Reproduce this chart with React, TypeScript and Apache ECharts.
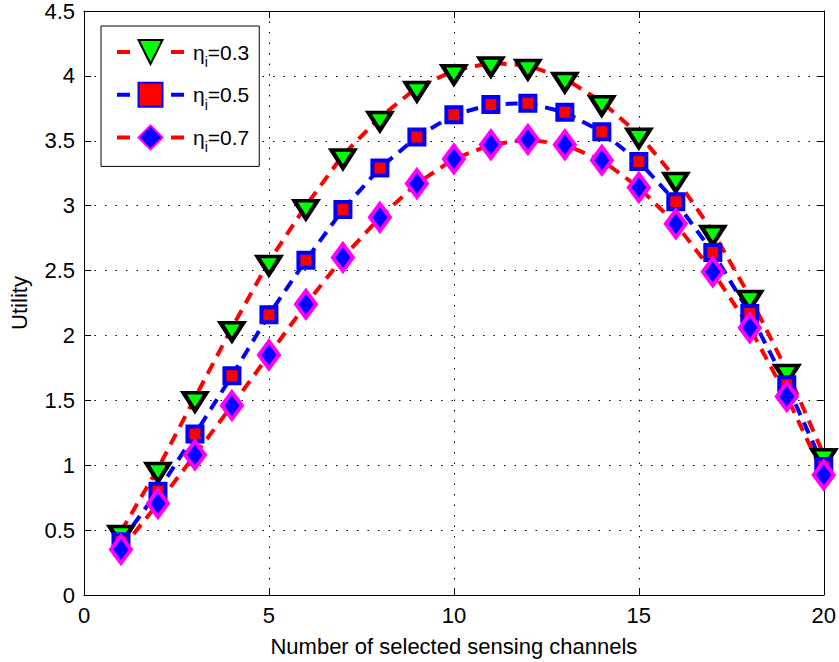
import React, { useEffect, useRef } from "react";
import * as echarts from "echarts";

const channels = [1, 2, 3, 4, 5, 6, 7, 8, 9, 10, 11, 12, 13, 14, 15, 16, 17, 18, 19, 20];
const eta03 = [0.49, 0.975, 1.52, 2.06, 2.57, 3.0, 3.39, 3.68, 3.91, 4.04, 4.1, 4.08, 3.98, 3.8, 3.55, 3.21, 2.8, 2.3, 1.73, 1.08];
const eta05 = [0.41, 0.8, 1.24, 1.69, 2.16, 2.58, 2.97, 3.29, 3.53, 3.7, 3.78, 3.79, 3.72, 3.57, 3.34, 3.03, 2.64, 2.17, 1.62, 0.99];
const eta07 = [0.35, 0.705, 1.08, 1.46, 1.85, 2.24, 2.6, 2.91, 3.17, 3.36, 3.47, 3.51, 3.47, 3.35, 3.14, 2.86, 2.49, 2.06, 1.53, 0.925];
const seriesNames = ["η_i=0.3", "η_i=0.5", "η_i=0.7"];
const xLabel = "Number of selected sensing channels";
const yLabel = "Utility";

const FONT = "'Liberation Sans', Arial, Helvetica, sans-serif";

export default function App() {
  const ref = useRef<HTMLDivElement>(null);
  useEffect(() => {
    if (!ref.current) return;
    const chart = echarts.init(ref.current, null, { renderer: "svg" });
    const pts = (ys: number[]) => channels.map((x, i) => [x, ys[i]]);
    const dash = [12, 8];
    const tick = { show: true, inside: true, length: 7, lineStyle: { color: "#000", width: 1 } };
    const axisLine = { show: true, onZero: false, lineStyle: { color: "#000", width: 1 } };
    const grid = { show: true, lineStyle: { color: "#000", width: 1, type: [1.5, 9] as any } };
    chart.setOption({
      animation: false,
      textStyle: { fontFamily: FONT },
      grid: { left: 84, right: 14, top: 10, bottom: 67, containLabel: false },
      legend: {
        orient: "vertical",
        left: 101,
        top: 26,
        padding: [13, 10, 12, 14],
        itemGap: 12.7,
        itemWidth: 67,
        itemHeight: 30,
        backgroundColor: "#fff",
        borderColor: "#000",
        borderWidth: 1,
        borderRadius: 0,
        data: seriesNames.map((name) => ({ name, lineStyle: { width: 4, type: [13, 41, 13] } })),
        lineStyle: { width: 4, type: [13, 41, 13] as any },
        formatter: (name: string) => "{a|η}{s|i}{a|" + name.replace("η_i", "") + "}",
        textStyle: {
          color: "#000",
          fontSize: 21,
          fontFamily: FONT,
          padding: [0, 0, 0, 4],
          rich: {
            a: { fontSize: 21, lineHeight: 30, verticalAlign: "middle", color: "#000", fontFamily: FONT },
            s: { fontSize: 14, lineHeight: 34, verticalAlign: "bottom", color: "#000", fontFamily: FONT },
          },
        },
      },
      xAxis: [
        {
          type: "value",
          min: 0,
          max: 20,
          interval: 5,
          position: "bottom",
          name: xLabel,
          nameLocation: "middle",
          nameGap: 40,
          nameTextStyle: { fontSize: 22, color: "#000", fontFamily: FONT },
          axisLine,
          axisTick: tick,
          axisLabel: { fontSize: 22, color: "#000", margin: 9, fontFamily: FONT },
          splitLine: grid,
        },
        {
          type: "value",
          min: 0,
          max: 20,
          interval: 5,
          position: "top",
          axisLine,
          axisTick: tick,
          axisLabel: { show: false },
          splitLine: { show: false },
        },
      ],
      yAxis: [
        {
          type: "value",
          min: 0,
          max: 4.5,
          interval: 0.5,
          position: "left",
          name: yLabel,
          nameLocation: "middle",
          nameGap: 54,
          nameTextStyle: { fontSize: 22, color: "#000", fontFamily: FONT },
          axisLine,
          axisTick: tick,
          axisLabel: { fontSize: 22, color: "#000", margin: 9, fontFamily: FONT },
          splitLine: grid,
        },
        {
          type: "value",
          min: 0,
          max: 4.5,
          interval: 0.5,
          position: "right",
          axisLine,
          axisTick: tick,
          axisLabel: { show: false },
          splitLine: { show: false },
        },
      ],
      series: [
        {
          name: seriesNames[0],
          type: "line",
          data: pts(eta03),
          symbol: "triangle",
          symbolRotate: 180,
          symbolSize: [23, 18],
          symbolOffset: [0, 4],
          lineStyle: { color: "#ff0000", width: 4, type: dash },
          itemStyle: { color: "#00ff00", borderColor: "#000", borderWidth: 4, borderJoin: "miter" },
        },
        {
          name: seriesNames[1],
          type: "line",
          data: pts(eta05),
          symbol: "rect",
          symbolSize: 15,
          lineStyle: { color: "#0000ff", width: 4, type: dash },
          itemStyle: { color: "#ff0000", borderColor: "#0000ff", borderWidth: 4, borderJoin: "miter" },
        },
        {
          name: seriesNames[2],
          type: "line",
          data: pts(eta07),
          symbol: "diamond",
          symbolSize: [20, 27],
          lineStyle: { color: "#ff0000", width: 4, type: dash },
          itemStyle: { color: "#0000ff", borderColor: "#ff00ff", borderWidth: 4, borderJoin: "miter" },
        },
      ],
    });
    return () => chart.dispose();
  }, []);
  return (
    <div
      ref={ref}
      style={{ position: "absolute", left: 0, top: 0, width: 839, height: 662, background: "#fff" }}
    />
  );
}
